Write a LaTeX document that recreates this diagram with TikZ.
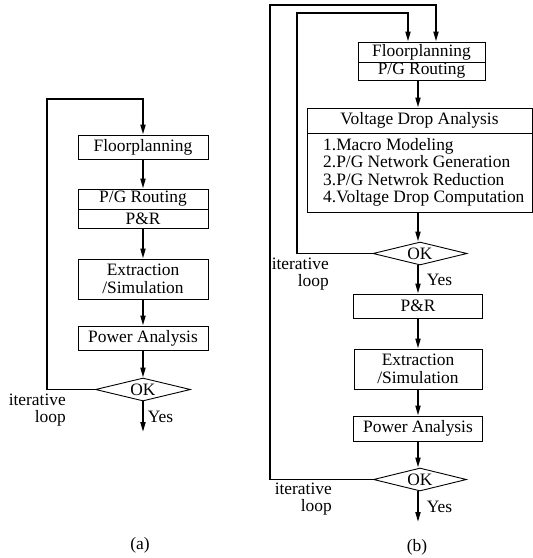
\documentclass[tikz,border=0pt]{standalone}
\usepackage{fontspec}
\setmainfont{Liberation Serif}
\usetikzlibrary{arrows.meta,shapes.geometric}
\begin{document}
\begin{tikzpicture}[x=1pt,y=-1pt,
  every node/.style={font=\fontsize{17.4}{17.5}\selectfont, inner sep=0pt},
  box/.style={draw, line width=0.9pt, rectangle, minimum height=#1},
  boxA/.style={box=#1, minimum width=130pt},
  okd/.style={draw, line width=0.9pt, diamond, aspect=4.1, minimum width=94pt, minimum height=23pt},
  flow/.style={line width=1.8pt, -{Triangle[length=10pt,width=5pt]}},
  loopline/.style={line width=1.8pt, -{Triangle[length=10pt,width=5pt]}},
  lbl/.style={align=right, anchor=east, font=\fontsize{17.4}{17}\selectfont}
]
\useasboundingbox (0,0) rectangle (533,558);
\fill[white] (0,0) rectangle (533,558);

% ---------- (a) ----------
\node[boxA=24pt] (fpA) at (143,147) {Floorplanning};
\node[boxA=20pt] (pgA) at (143,199) {P/G Routing};
\node[boxA=19pt] (prA) at (143,218.5) {P\&R};
\node[boxA=40pt, align=center] (exA) at (143,279) {Extraction\\/Simulation};
\node[boxA=24pt] (paA) at (143,338) {Power Analysis};
\node[okd, minimum width=95pt] (okA) at (143,389.5) {OK};
\coordinate (lA) at (47,99);
\coordinate (endA) at (143,432);

\draw[flow] (fpA) -- (pgA);
\draw[flow] (prA) -- (exA);
\draw[flow] (exA) -- (paA);
\draw[flow] (paA.south) -- (okA.north);
\draw[loopline] (okA.west) -| (lA) -| (fpA.north);
\draw[flow] (okA.south) -- (endA) node[pos=0.5, right=4pt] (yesA) {Yes};
\node[lbl] (itA) at (66,410) {iterative\\loop};
\node (capA) at (140,545) {(a)};

% ---------- (b) ----------
\coordinate (axB) at (418,0);
\node[box=20pt, minimum width=127pt] (fpB) at (421.5,52) {Floorplanning};
\node[box=18pt, minimum width=127pt] (pgB) at (421.5,71) {P/G Routing};
\node[box=25pt, minimum width=225pt] (vdB) at (419.5,120.5) {Voltage Drop Analysis};
\node[box=79pt, minimum width=225pt] (vdBody) at (419.5,172.5) {};
\node[anchor=west, align=left, font=\fontsize{17.4}{17.5}\selectfont] (vdText) at (323,172.5)
  {1.Macro Modeling\\2.P/G Network Generation\\3.P/G Netwrok Reduction\\4.Voltage Drop Computation};
\node[okd] (okB1) at (420,253.5) {OK};
\node[box=24pt, minimum width=129pt] (prB) at (418,306) {P\&R};
\node[box=40pt, minimum width=128pt, align=center] (exB) at (418,369) {Extraction\\/Simulation};
\node[box=25pt, minimum width=129pt] (paB) at (418,428.5) {Power Analysis};
\node[okd, minimum width=93pt] (okB2) at (420,479.5) {OK};
\coordinate (lB1) at (297,13);
\coordinate (lB2) at (270,5);
\coordinate (inB1) at (408,0);
\coordinate (inB2) at (436,0);
\coordinate (endB) at (418,522);

\draw[flow] (pgB.south -| axB) -- (vdB.north -| axB);
\draw[flow] (vdBody.south -| axB) -- (okB1.north -| axB);
\draw[flow] (okB1.south -| axB) -- (prB.north) node[pos=0.5, right=8pt] (yesB1) {Yes};
\draw[flow] (prB) -- (exB);
\draw[flow] (exB) -- (paB);
\draw[flow] (paB.south) -- (okB2.north -| axB);
\draw[flow] (okB2.south -| axB) -- (endB) node[pos=0.5, right=8pt] (yesB2) {Yes};
\draw[loopline] (okB1.west) -| (lB1) -| (fpB.north -| inB1);
\draw[loopline] (okB2.west) -| (lB2) -| (fpB.north -| inB2);
\node[lbl] (itB1) at (329,274) {iterative\\loop};
\node[lbl] (itB2) at (332,499) {iterative\\loop};
\node (capB) at (417,547) {(b)};
\end{tikzpicture}
\end{document}
